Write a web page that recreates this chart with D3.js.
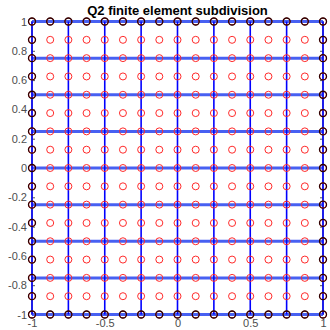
<!DOCTYPE html>
<html>
<head>
<meta charset="utf-8">
<script src="https://cdn.jsdelivr.net/npm/d3@7"></script>
<style>
  body { margin: 0; background: #fff; }
  svg text { font-family: "Liberation Sans", Arial, sans-serif; }
</style>
</head>
<body>
<div id="chart"></div>
<script>
// element edges (8 x 8 elements on [-1,1]^2)
const edges = [-1, -0.75, -0.5, -0.25, 0, 0.25, 0.5, 0.75, 1];
// Q2 node coordinates along one direction
const nodes = [-1, -0.875, -0.75, -0.625, -0.5, -0.375, -0.25, -0.125, 0,
  0.125, 0.25, 0.375, 0.5, 0.625, 0.75, 0.875, 1];
const xTicks = [-1, -0.5, 0, 0.5, 1];
const yTicks = [-1, -0.8, -0.6, -0.4, -0.2, 0, 0.2, 0.4, 0.6, 0.8, 1];
const title = 'Q2 finite element subdivision';

const width = 330, height = 330;
const margin = { top: 21.5, right: 7, bottom: 15.5, left: 32 };

const svg = d3.select('#chart')
  .append('svg')
  .attr('width', width)
  .attr('height', height);

const x = d3.scaleLinear().domain([-1, 1]).range([margin.left, width - margin.right]);
const y = d3.scaleLinear().domain([-1, 1]).range([height - margin.bottom, margin.top]);

// axis box
svg.append('rect')
  .attr('x', x(-1))
  .attr('y', y(1))
  .attr('width', x(1) - x(-1))
  .attr('height', y(-1) - y(1))
  .attr('fill', 'none')
  .attr('stroke', '#262626')
  .attr('stroke-width', 1);

// axes, matlab style ticks pointing inward
const xAxis = d3.axisBottom(x).tickValues(xTicks).tickSize(-3).tickPadding(6)
  .tickFormat(d => String(d));
const yAxis = d3.axisLeft(y).tickValues(yTicks).tickSize(-3).tickPadding(5)
  .tickFormat(d => String(+d.toFixed(1)));

const gx = svg.append('g')
  .attr('transform', `translate(0,${y(-1)})`)
  .call(xAxis);
const gy = svg.append('g')
  .attr('transform', `translate(${x(-1)},0)`)
  .call(yAxis);
const gyr = svg.append('g')
  .attr('transform', `translate(${x(1)},0)`)
  .call(d3.axisRight(y).tickValues(yTicks).tickSize(-3).tickFormat(''));

[gx, gy, gyr].forEach(g => {
  g.select('.domain').remove();
  g.selectAll('.tick line').attr('stroke', '#555');
  g.selectAll('.tick text')
    .attr('fill', '#4d4d4d')
    .style('font-size', '11px');
});
gx.selectAll('.tick text').attr('dy', '0.6em');

// element edges
svg.append('g')
  .selectAll('line.h')
  .data(edges)
  .enter()
  .append('line')
  .attr('x1', x(-1))
  .attr('x2', x(1))
  .attr('y1', d => y(d))
  .attr('y2', d => y(d))
  .attr('stroke', '#4760f2')
  .attr('stroke-width', 3);

svg.append('g')
  .selectAll('line.v')
  .data(edges)
  .enter()
  .append('line')
  .attr('x1', d => x(d))
  .attr('x2', d => x(d))
  .attr('y1', y(-1))
  .attr('y2', y(1))
  .attr('stroke', '#0000ff')
  .attr('stroke-width', 1.6);

// nodes
const pts = [];
nodes.forEach(px => nodes.forEach(py => pts.push({ px, py })));
const onBoundary = d => Math.abs(d.px) === 1 || Math.abs(d.py) === 1;

svg.append('g')
  .selectAll('circle')
  .data(pts)
  .enter()
  .append('circle')
  .attr('cx', d => x(d.px))
  .attr('cy', d => y(d.py))
  .attr('r', 3.5)
  .attr('fill', 'none')
  .attr('stroke', '#ff2a2a')
  .attr('stroke-width', 1);

svg.append('g')
  .selectAll('circle')
  .data(pts.filter(onBoundary))
  .enter()
  .append('circle')
  .attr('cx', d => x(d.px))
  .attr('cy', d => y(d.py))
  .attr('r', 3.5)
  .attr('fill', 'none')
  .attr('stroke', '#2a0000')
  .attr('stroke-width', 1.3);

svg.append('text')
  .attr('x', (x(-1) + x(1)) / 2)
  .attr('y', 15)
  .attr('text-anchor', 'middle')
  .style('font-size', '13px')
  .style('font-weight', 'bold')
  .attr('fill', '#000')
  .text(title);
</script>
</body>
</html>
